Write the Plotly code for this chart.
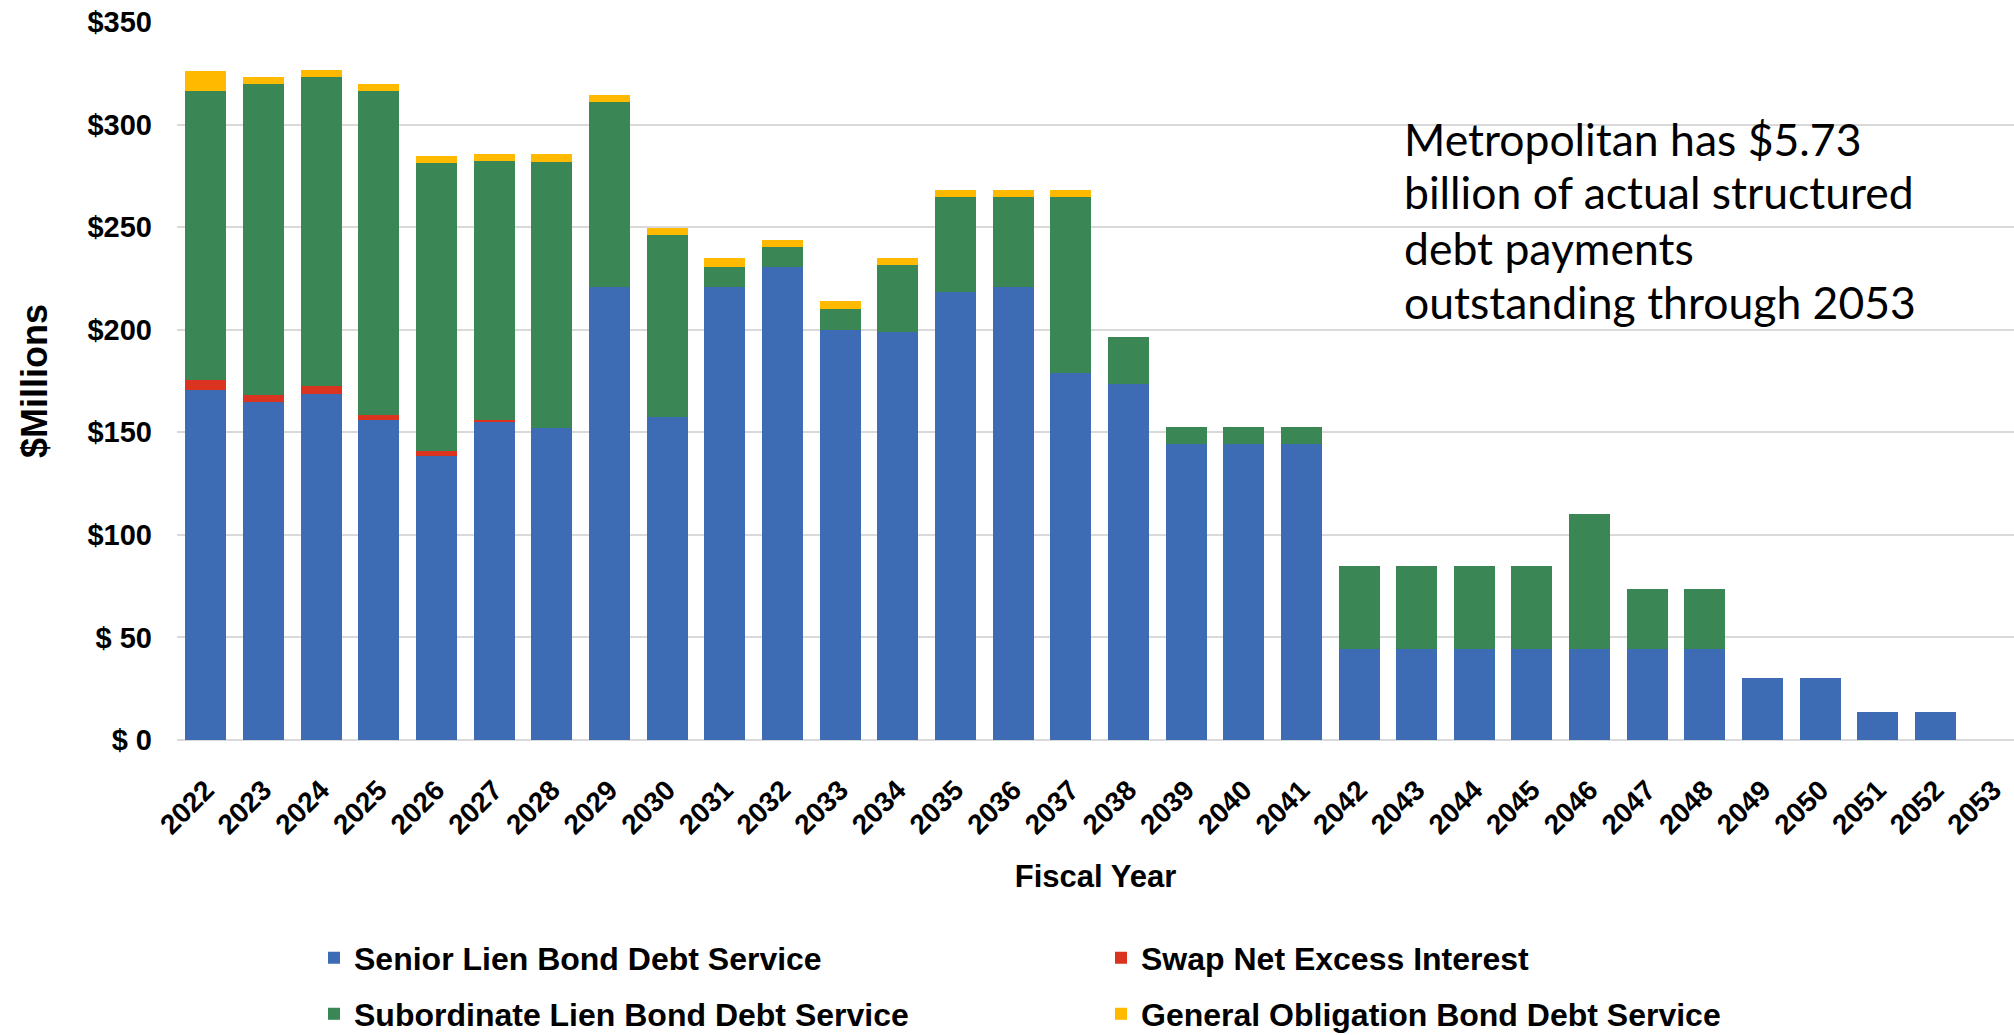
import plotly.graph_objects as go

years = [str(y) for y in range(2022, 2054)]

senior = [170.7, 164.6, 168.8, 155.8, 138.3, 155.0, 152.2, 220.7, 157.6, 220.9,
          230.5, 200.0, 199.0, 218.3, 220.9, 178.9, 173.5, 144.5, 144.5, 144.5,
          44.3, 44.3, 44.3, 44.3, 44.3, 44.3, 44.3, 30.4, 30.4, 13.8, 13.8, 0]
swap = [4.6, 3.4, 3.7, 2.7, 2.7, 1.1, 0, 0, 0, 0,
        0, 0, 0, 0, 0, 0, 0, 0, 0, 0,
        0, 0, 0, 0, 0, 0, 0, 0, 0, 0, 0, 0]
subordinate = [141.0, 151.9, 150.8, 157.8, 140.1, 126.1, 129.8, 90.2, 88.4, 9.6,
               9.8, 10.2, 32.5, 46.5, 43.9, 85.9, 22.8, 8.0, 8.0, 8.0,
               40.4, 40.4, 40.4, 40.4, 65.9, 29.1, 29.1, 0, 0, 0, 0, 0]
general_obligation = [9.6, 3.4, 3.5, 3.6, 3.5, 3.5, 3.6, 3.6, 3.6, 4.6,
                      3.5, 3.8, 3.6, 3.5, 3.5, 3.5, 0, 0, 0, 0,
                      0, 0, 0, 0, 0, 0, 0, 0, 0, 0, 0, 0]

series_names = ["Senior Lien Bond Debt Service", "Swap Net Excess Interest",
                "Subordinate Lien Bond Debt Service", "General Obligation Bond Debt Service"]
series_values = [senior, swap, subordinate, general_obligation]
series_colors = ["#3E6CB4", "#DA3421", "#3A8755", "#FFBA00"]
series_legends = ["legend", "legend", "legend2", "legend2"]

y_tickvals = [0, 50, 100, 150, 200, 250, 300, 350]
y_ticktext = ["$ 0", "$ 50", "$100", "$150", "$200", "$250", "$300", "$350"]

note_lines = ["Metropolitan has $5.73", "billion of actual structured",
              "debt payments", "outstanding through 2053"]

W, H = 2014, 1035
ML, MR, MT, MB = 177, 0, 22, 295
plot_w = W - ML - MR
plot_h = H - MT - MB

arial = "Liberation Sans, Arial, sans-serif"

fig = go.Figure()
for name, vals, col, lg in zip(series_names, series_values, series_colors, series_legends):
    fig.add_trace(go.Bar(x=years, y=vals, name=name, marker=dict(color=col, line=dict(width=0)),
                         legend=lg))

def px_to_paper_y(p):
    return (H - MB - p) / plot_h

def px_to_paper_x(p):
    return (p - ML) / plot_w

note_y_px = [138, 192, 247, 301]
annotations = []
for line, yp in zip(note_lines, note_y_px):
    annotations.append(dict(text=line, xref="paper", yref="paper",
                            x=px_to_paper_x(1402), y=px_to_paper_y(yp),
                            xanchor="left", yanchor="middle", showarrow=False,
                            font=dict(family="Lato, Carlito, sans-serif", size=44.5, color="#000000")))

legend_font = dict(family=arial, size=32, color="#000000", weight="bold")

fig.update_layout(
    width=W, height=H, autosize=False,
    margin=dict(l=ML, r=MR, t=MT, b=MB, pad=0),
    paper_bgcolor="white", plot_bgcolor="white",
    barmode="stack", bargap=0.289,
    showlegend=True,
    legend=dict(orientation="h", xref="container", yref="container",
                x=314 / W, y=1 - 958 / H, xanchor="left", yanchor="middle",
                entrywidth=742, font=legend_font,
                bgcolor="rgba(0,0,0,0)", traceorder="normal"),
    legend2=dict(orientation="h", xref="container", yref="container",
                 x=314 / W, y=1 - 1014 / H, xanchor="left", yanchor="middle",
                 entrywidth=742, font=legend_font,
                 bgcolor="rgba(0,0,0,0)", traceorder="normal"),
    annotations=annotations,
    xaxis=dict(type="category", range=[-0.5, 31.36], tickangle=-45,
               tickfont=dict(family=arial, size=28, color="#000000", weight="bold"),
               ticks="", showgrid=False, showline=False, zeroline=False,
               ticklabelstandoff=27, automargin=False,
               title=dict(text="Fiscal Year", standoff=26,
                          font=dict(family=arial, size=31, color="#000000", weight="bold"))),
    yaxis=dict(range=[0, 350], tickvals=y_tickvals, ticktext=y_ticktext,
               tickfont=dict(family=arial, size=29, color="#000000", weight="bold"),
               ticks="", showgrid=True, gridcolor="#d9d9d9", gridwidth=2,
               zeroline=True, zerolinecolor="#d9d9d9", zerolinewidth=2,
               showline=False, ticklabelstandoff=24, automargin=False,
               title=dict(text="$Millions", standoff=28,
                          font=dict(family=arial, size=36, color="#000000", weight="bold"))),
)

fig.write_html("out.html")
